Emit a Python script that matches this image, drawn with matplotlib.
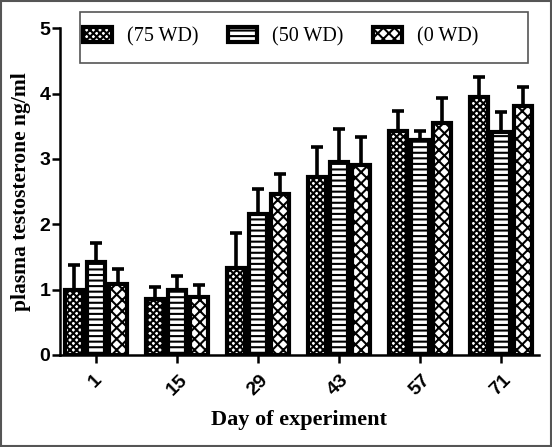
import numpy as np
import matplotlib
matplotlib.use("Agg")
import matplotlib.pyplot as plt
from matplotlib.patches import Rectangle

days = ["1", "15", "29", "43", "57", "71"]
groups = ["(75 WD)", "(50 WD)", "(0 WD)"]
wd75 = [1.00, 0.86, 1.33, 2.72, 3.43, 3.95]
wd75_err = [0.38, 0.18, 0.54, 0.46, 0.30, 0.30]
wd50 = [1.42, 1.00, 2.16, 2.95, 3.29, 3.41]
wd50_err = [0.29, 0.21, 0.38, 0.51, 0.14, 0.31]
wd0 = [1.09, 0.89, 2.46, 2.90, 3.55, 3.81]
wd0_err = [0.23, 0.18, 0.31, 0.43, 0.38, 0.29]

plt.rcParams['hatch.linewidth'] = 1.5

fig = plt.figure(figsize=(5.52, 4.47), dpi=100)
ax = fig.add_axes([0.109, 0.206, 0.867, 0.731])

x = np.arange(len(days))
w = 0.27
hatches = ['xxxxx', '---', 'xxx']
series = [(wd75, wd75_err), (wd50, wd50_err), (wd0, wd0_err)]
for i, (vals, errs) in enumerate(series):
    pos = x + (i - 1) * w
    ax.bar(pos, vals, width=w * 0.82, color='white', edgecolor='black',
           linewidth=3, hatch=hatches[i], zorder=2)
    ax.errorbar(pos, vals, yerr=[np.zeros(len(errs)), errs], fmt='none',
                ecolor='black', elinewidth=2.6, capsize=4, capthick=2.6, zorder=1)

ax.set_xlim(-0.44, 5.47)
ax.set_ylim(0, 5)
ax.set_yticks([0, 1, 2, 3, 4, 5])
ax.set_xticks(x)
ax.set_xticklabels(days, rotation=45, ha='center', va='top')
for lab in ax.get_xticklabels() + ax.get_yticklabels():
    lab.set_fontfamily('Liberation Sans')
    lab.set_fontweight('bold')
    lab.set_fontsize(14)
for s in ['top', 'right']:
    ax.spines[s].set_visible(False)
for s in ['left', 'bottom']:
    ax.spines[s].set_linewidth(1.8)
ax.tick_params(width=1.8, length=6, pad=1)
ax.tick_params(axis='x', pad=6)

ax.set_xlabel('Day of experiment', family='Liberation Serif', weight='bold', fontsize=16, labelpad=8)
ax.set_ylabel('plasma testosterone ng/ml', family='Liberation Serif', weight='bold', fontsize=15.5, labelpad=6)

# legend box drawn separately, entries sit inside it
fig.patches.append(Rectangle((80 / 552, 1 - 63 / 447), 448 / 552, 51 / 447, transform=fig.transFigure,
                             facecolor='white', edgecolor='#555555', linewidth=1.2, zorder=5))
handles = [Rectangle((0, 0), 1, 1, facecolor='white', edgecolor='black', linewidth=3, hatch=h)
           for h in hatches]
leg = fig.legend(handles, groups, loc='center left', bbox_to_anchor=(83 / 552, 1 - 37 / 447),
                 ncol=3, frameon=False, handlelength=1.45, handleheight=0.75, handletextpad=0.75,
                 borderpad=0, borderaxespad=0, columnspacing=1.45,
                 prop={'family': 'Liberation Serif', 'size': 14.5})
leg.set_zorder(6)

fig.patches.append(Rectangle((0.002, 0.002), 0.996, 0.996, transform=fig.transFigure,
                             fill=False, edgecolor='#555555', linewidth=1.5))

fig.savefig('out.png', dpi=100)
